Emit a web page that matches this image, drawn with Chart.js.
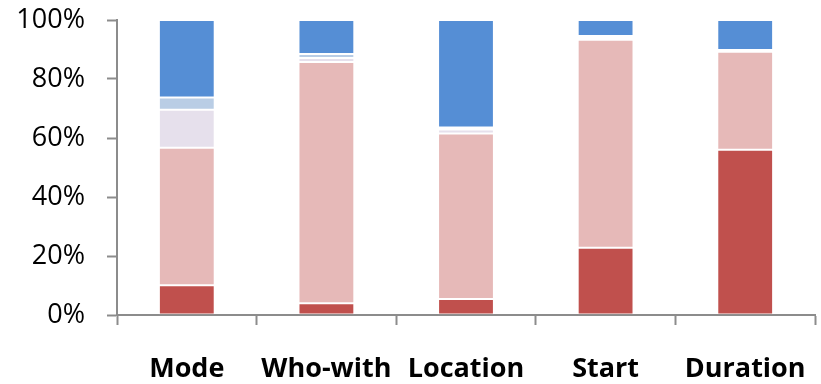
<!DOCTYPE html>
<html>
<head>
<meta charset="utf-8">
<script src="https://cdn.jsdelivr.net/npm/chart.js@4/dist/chart.umd.min.js"></script>
<style>
  html, body { margin: 0; padding: 0; background: #fff; }
  #wrap { width: 821px; height: 384px; }
</style>
</head>
<body>
<div id="wrap"><canvas id="shareChart" width="821" height="384"></canvas></div>
<script>
// Share of each answer group per attribute (percent, stacked to 100)
const categories = ["Mode", "Who-with", "Location", "Start", "Duration"];
const darkRed   = [10.1, 4.0, 5.4, 22.8, 56.0];
const lightRed  = [46.6, 81.8, 56.1, 70.5, 33.2];
const lavender  = [12.9, 1.3, 1.4, 0.7, 0.4];
const lightBlue = [4.1, 1.4, 0.7, 0.6, 0.2];
const blue      = [26.3, 11.5, 36.4, 5.4, 10.2];
const yTicks = [0, 20, 40, 60, 80, 100];

const axisGray = "#8c8c8c";

function series(values, color) {
    return {
        data: values,
        backgroundColor: color,
        borderColor: "rgba(255,255,255,0.18)",
        borderWidth: 1,
        borderSkipped: false,
        categoryPercentage: 0.4,
        barPercentage: 1
    };
}

new Chart(document.getElementById("shareChart").getContext("2d"), {
    type: "bar",
    data: {
        labels: categories,
        datasets: [
            series(darkRed, "#c0504d"),
            series(lightRed, "#e6b9b8"),
            series(lavender, "#e6e0ec"),
            series(lightBlue, "#b9cde5"),
            series(blue, "#558ed5")
        ]
    },
    options: {
        responsive: false,
        animation: false,
        layout: { padding: { top: 20, right: 6, left: 0, bottom: 0 } },
        plugins: { legend: { display: false }, tooltip: { enabled: false } },
        scales: {
            x: {
                stacked: true,
                grid: {
                    offset: true,
                    drawOnChartArea: false,
                    drawTicks: true,
                    tickLength: 10,
                    tickWidth: 2,
                    tickColor: axisGray
                },
                border: { color: axisGray, width: 2 },
                ticks: {
                    color: "#000",
                    padding: 28,
                    font: { family: "Open Sans", size: 27, weight: "bold" }
                },
                afterFit: (axis) => {
                    axis.height = 69;
                    axis.paddingLeft = 0;
                    axis.paddingRight = 0;
                }
            },
            y: {
                stacked: true,
                min: 0,
                max: 100,
                afterBuildTicks: (axis) => { axis.ticks = yTicks.map(v => ({ value: v })); },
                grid: {
                    drawOnChartArea: false,
                    drawTicks: true,
                    tickLength: 10,
                    tickWidth: 2,
                    tickColor: axisGray
                },
                border: { color: axisGray, width: 2 },
                ticks: {
                    color: "#000",
                    padding: 22,
                    font: { family: "Open Sans", size: 27 },
                    callback: (v) => v + "%"
                },
                afterFit: (axis) => {
                    axis.width = 117;
                    axis.paddingTop = 0;
                    axis.paddingBottom = 0;
                }
            }
        }
    }
});
</script>
</body>
</html>
